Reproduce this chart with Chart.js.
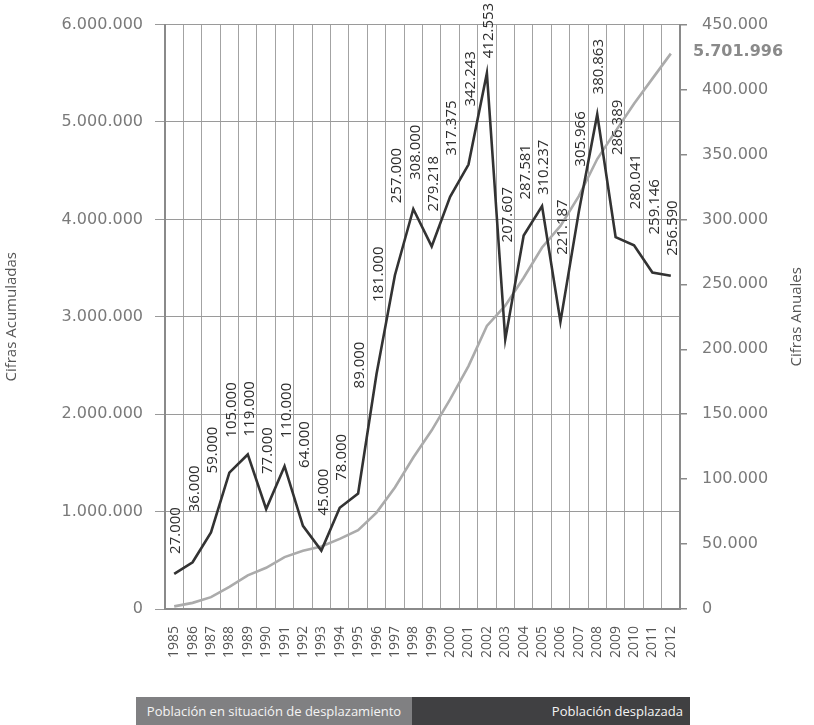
<!DOCTYPE html>
<html>
<head>
<meta charset="utf-8">
<script src="https://cdn.jsdelivr.net/npm/chart.js@4.4.1/dist/chart.umd.min.js"></script>
<style>
  html, body { margin:0; padding:0; background:#fff; }
  #wrap { position:relative; width:814px; height:725px; overflow:hidden; }
  #c { position:absolute; left:0; top:0; }
  .lg { position:absolute; top:697px; height:28px; line-height:28px; font-family:'Open Sans', sans-serif; font-size:13px; white-space:nowrap; box-sizing:border-box; }
</style>
</head>
<body>
<div id="wrap">
  <canvas id="c" width="814" height="697"></canvas>
  <div class="lg" style="left:136px; width:276px; background:#808082; color:#f4f4f4; text-align:center;">Población en situación de desplazamiento</div>
  <div class="lg" style="left:412px; width:278px; background:#404042; color:#f4f4f4; text-align:right; padding-right:7px;">Población desplazada</div>
</div>
<script>
const years = ['1985','1986','1987','1988','1989','1990','1991','1992','1993','1994','1995','1996','1997','1998','1999','2000','2001','2002','2003','2004','2005','2006','2007','2008','2009','2010','2011','2012'];
const annual = [27000, 36000, 59000, 105000, 119000, 77000, 110000, 64000, 45000, 78000, 89000, 181000, 257000, 308000, 279218, 317375, 342243, 412553, 207607, 287581, 310237, 221187, 305966, 380863, 286389, 280041, 259146, 256590];
const cumulative = [27000, 63000, 122000, 227000, 346000, 423000, 533000, 597000, 642000, 720000, 809000, 990000, 1247000, 1555000, 1834218, 2151593, 2493836, 2906389, 3113996, 3401577, 3711814, 3933001, 4238967, 4619830, 4906219, 5186260, 5445406, 5701996];
const leftTicks = [0, 1000000, 2000000, 3000000, 4000000, 5000000, 6000000];
const rightTicks = [0, 50000, 100000, 150000, 200000, 250000, 300000, 350000, 400000, 450000];
// vertical distance (px) between each annual point and the start of its label
const labelGap = [20, 50, 59, 35, 18, 35, 28, 58, 35, 27, 105, 72, 72, 29, 35, 41, 58, 15, 97, 36, 11, 67, 45, 20, 82, 36, 38, 20];

function fmt(v) {
  return String(Math.round(v)).replace(/\B(?=(\d{3})+(?!\d))/g, '.');
}

const labelPlugin = {
  id: 'valueLabels',
  afterDatasetsDraw(chart) {
    const ctx = chart.ctx;
    const meta = chart.getDatasetMeta(0);
    ctx.save();
    ctx.fillStyle = '#2e2e2e';
    ctx.font = "15px 'Open Sans'";
    ctx.textAlign = 'left';
    ctx.textBaseline = 'middle';
    meta.data.forEach((p, i) => {
      ctx.save();
      ctx.translate(p.x + 2, p.y - labelGap[i]);
      ctx.rotate(-Math.PI / 2);
      ctx.fillText(fmt(annual[i]), 0, 0);
      ctx.restore();
    });
    const m2 = chart.getDatasetMeta(1);
    const last = m2.data[m2.data.length - 1];
    ctx.fillStyle = '#8a8a8a';
    ctx.font = "bold 16px 'DejaVu Sans'";
    ctx.textAlign = 'left';
    ctx.fillText(fmt(cumulative[cumulative.length - 1]), chart.chartArea.right + 13, last.y - 2);
    // right axis title, reading bottom to top
    const ca = chart.chartArea;
    ctx.save();
    ctx.translate(797, (ca.top + ca.bottom) / 2);
    ctx.rotate(-Math.PI / 2);
    ctx.textAlign = 'center';
    ctx.fillStyle = '#555555';
    ctx.font = "15px 'Open Sans'";
    ctx.fillText('Cifras Anuales', 0, 0);
    ctx.restore();
    ctx.restore();
  }
};

new Chart(document.getElementById('c'), {
  type: 'line',
  data: {
    labels: years,
    datasets: [
      { label: 'Población desplazada', data: annual, yAxisID: 'yR', borderColor: '#333333', borderWidth: 2.6, pointRadius: 0, tension: 0, fill: false },
      { label: 'Población en situación de desplazamiento', data: cumulative, yAxisID: 'yL', borderColor: '#ababab', borderWidth: 2.6, pointRadius: 0, tension: 0, fill: false }
    ]
  },
  options: {
    responsive: false,
    animation: false,
    devicePixelRatio: 1,
    layout: { padding: { top: 20, right: 4, left: 0, bottom: 0 } },
    plugins: { legend: { display: false }, tooltip: { enabled: false } },
    scales: {
      x: {
        type: 'category',
        offset: true,
        grid: { offset: true, color: '#a3a3a3', lineWidth: 1, drawTicks: false },
        border: { display: true, color: '#8a8a8a', width: 2 },
        ticks: { minRotation: 90, maxRotation: 90, autoSkip: false, padding: 17, color: '#555555', font: { family: 'Open Sans', size: 14 } },
        afterFit(s) { s.height = 88; }
      },
      yL: {
        position: 'left',
        min: 0, max: 6000000,
        afterBuildTicks(s) { s.ticks = leftTicks.map(v => ({ value: v })); },
        ticks: { callback: v => fmt(v), color: '#7a7a7a', font: { family: 'DejaVu Sans', size: 16 }, padding: 12 },
        grid: { color: '#9a9a9a', lineWidth: 1, tickLength: 10 },
        border: { color: '#8a8a8a', width: 2 },
        title: { display: true, text: 'Cifras Acumuladas', color: '#555555', font: { family: 'Open Sans', size: 15 }, padding: { top: 3, bottom: 0 } },
        afterFit(s) { s.width = 165; }
      },
      yR: {
        position: 'right',
        min: 0, max: 450000,
        afterBuildTicks(s) { s.ticks = rightTicks.map(v => ({ value: v })); },
        ticks: { callback: v => fmt(v), color: '#7a7a7a', font: { family: 'DejaVu Sans', size: 16 }, padding: 15 },
        grid: { drawOnChartArea: false, color: '#8a8a8a', lineWidth: 1.5, tickLength: 7 },
        border: { color: '#8a8a8a', width: 2 },
        title: { display: false },
        afterFit(s) { s.width = 130; }
      }
    }
  },
  plugins: [labelPlugin]
});
</script>
</body>
</html>
